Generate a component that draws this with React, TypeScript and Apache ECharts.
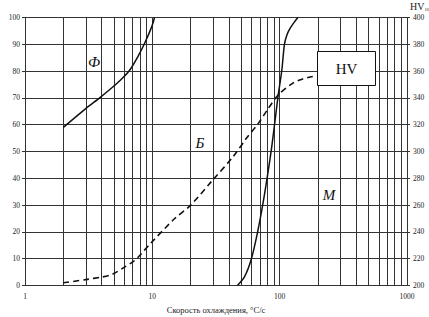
import React, { useEffect, useRef } from "react";
import * as echarts from "echarts";

// cooling-rate grid lines between decades
const gridTicks = [2, 3, 4, 5, 6, 7, 8, 9, 10, 20, 30, 40, 50, 60, 70, 80, 90, 100, 200, 300, 400, 500, 600, 700, 800, 900];

// Ferrite share, % vs cooling rate, °C/s
const ferrite: [number, number][] = [
  [2, 59], [3, 66], [3.9, 70.2], [5.1, 74.8], [6, 78], [6.7, 80.6], [7.7, 85.4], [8.7, 90.4], [9.9, 96.6], [10.4, 100],
];

// Martensite boundary, % vs cooling rate
const martensite: [number, number][] = [
  [46.6, 0], [53, 3.3], [60, 10], [67.6, 20.7], [74, 30.7], [80, 40.6], [86, 50.6], [91.4, 60.5], [97, 70.4],
  [104, 80.4], [109, 90], [114, 93.5], [121, 96], [130, 98.2], [139, 100],
];

// Hardness HV10 vs cooling rate
const hardness: [number, number][] = [
  [2, 202], [3, 204.4], [4, 206.3], [4.6, 207.6], [5.1, 209.4], [6, 213.5], [7.1, 218], [8, 222.6], [9.6, 231],
  [15, 250], [20, 260], [30, 279], [43, 296], [55, 310], [68, 321], [80, 331], [97, 342], [127, 351],
  [150, 354], [182, 356],
];

const xTickLabels = ["1", "10", "100", "1000"];

export default function App() {
  const ref = useRef<HTMLDivElement>(null);
  useEffect(() => {
    if (!ref.current) return;
    const chart = echarts.init(ref.current, null, { renderer: "svg" });
    const gridColor = "#333";
    const labelFont = { fontFamily: "Liberation Serif", fontSize: 7.5, color: "#222" };
    const curve = { smooth: 0.3, symbol: "none", z: 5 };
    chart.setOption({
      animation: false,
      backgroundColor: "#fff",
      grid: { left: 25, right: 22, top: 17.5, bottom: 31.5, containLabel: false, outerBoundsMode: "none" },
      xAxis: {
        type: "log",
        logBase: 10,
        min: 1,
        max: 1000,
        name: "Скорость охлаждения, °C/с",
        nameLocation: "middle",
        nameGap: 20,
        nameTextStyle: { fontFamily: "Liberation Serif", fontSize: 8.5, color: "#222" },
        axisLine: { show: true, lineStyle: { color: gridColor, width: 1 } },
        axisTick: { show: false },
        splitLine: { show: false },
        axisLabel: {
          ...labelFont,
          margin: 7,
          formatter: (v: number) => {
            const s = String(Math.round(v));
            return xTickLabels.includes(s) ? s : "";
          },
        },
      },
      yAxis: [
        {
          type: "value",
          min: 0,
          max: 100,
          interval: 10,
          name: "Структурная составляющая, %",
          nameLocation: "middle",
          nameRotate: 90,
          nameGap: 13,
          nameTextStyle: { fontFamily: "Liberation Serif", fontSize: 8.5, color: "#222" },
          axisLine: { show: true, lineStyle: { color: gridColor, width: 1 } },
          axisTick: { show: true, length: 3, lineStyle: { color: gridColor } },
          splitLine: { show: true, lineStyle: { color: gridColor, width: 1 } },
          axisLabel: { ...labelFont, margin: 5 },
        },
        {
          type: "value",
          min: 200,
          max: 400,
          interval: 20,
          position: "right",
          axisLine: { show: true, lineStyle: { color: gridColor, width: 1 } },
          axisTick: { show: true, length: 3, lineStyle: { color: gridColor } },
          splitLine: { show: false },
          axisLabel: { ...labelFont, margin: 6 },
        },
      ],
      series: [
        {
          name: "Ф",
          type: "line",
          data: ferrite,
          ...curve,
          lineStyle: { color: "#111", width: 1.5 },
          markLine: {
            silent: true,
            symbol: ["none", "none"],
            label: { show: false },
            lineStyle: { color: gridColor, width: 1, type: "solid" },
            data: gridTicks.map((v) => ({ xAxis: v })),
            z: 1,
          },
        },
        {
          name: "М",
          type: "line",
          data: martensite,
          ...curve,
          lineStyle: { color: "#111", width: 1.5 },
        },
        {
          name: "HV",
          type: "line",
          yAxisIndex: 1,
          data: hardness,
          ...curve,
          lineStyle: { color: "#111", width: 1.6, type: [6, 4] },
        },
      ],
      graphic: [
        {
          type: "rect",
          shape: { x: 317.5, y: 51.5, width: 58, height: 34 },
          style: { fill: "#fff", stroke: "#111", lineWidth: 1 },
          z: 10,
        },
        {
          type: "text",
          x: 346.5,
          y: 69,
          style: { text: "HV", fontFamily: "Liberation Serif", fontSize: 15, fill: "#111", align: "center", verticalAlign: "middle" },
          z: 11,
        },
        {
          type: "text",
          x: 410,
          y: 1,
          style: {
            text: "{a|HV}{b|10}",
            rich: {
              a: { fontFamily: "Liberation Serif", fontSize: 10, fill: "#222" },
              b: { fontFamily: "Liberation Serif", fontSize: 5, fill: "#222", padding: [6, 0, 0, 0] },
            },
          },
          z: 11,
        },
        {
          type: "text",
          x: 94,
          y: 62,
          style: { text: "Ф", fontFamily: "Liberation Serif", fontStyle: "italic", fontSize: 15, fill: "#111", align: "center", verticalAlign: "middle" },
          z: 11,
        },
        {
          type: "text",
          x: 200,
          y: 143,
          style: { text: "Б", fontFamily: "Liberation Serif", fontStyle: "italic", fontSize: 15, fill: "#111", align: "center", verticalAlign: "middle" },
          z: 11,
        },
        {
          type: "text",
          x: 329,
          y: 195,
          style: { text: "М", fontFamily: "Liberation Serif", fontStyle: "italic", fontSize: 15, fill: "#111", align: "center", verticalAlign: "middle" },
          z: 11,
        },
      ],
    });
    return () => chart.dispose();
  }, []);
  return <div ref={ref} style={{ width: 429, height: 317, position: "absolute", left: 0, top: 0 }} />;
}
